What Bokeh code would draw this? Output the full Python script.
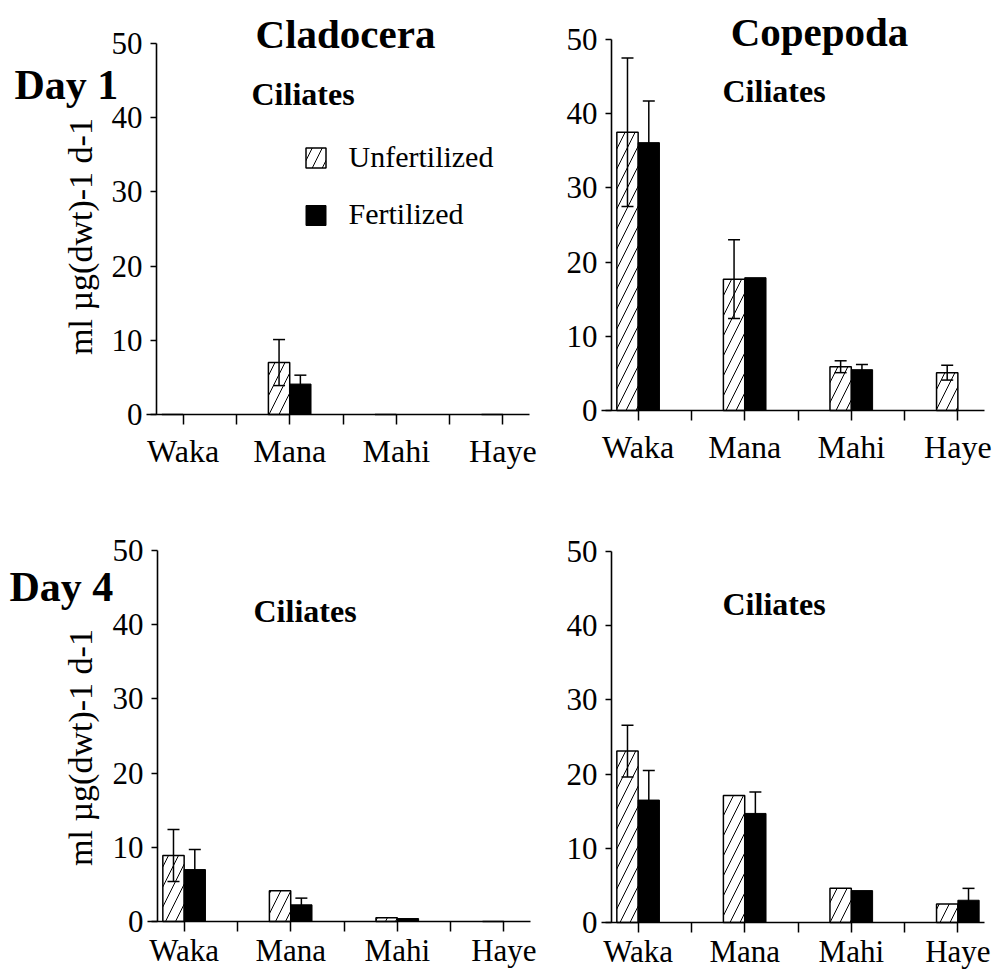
import math
import numpy as np
from bokeh.plotting import figure
from bokeh.models import (Range1d, FixedTicker, Label, Whisker, TeeHead,
                          ColumnDataSource)
from bokeh.layouts import row, column
from bokeh.embed import file_html
from bokeh.resources import INLINE

# ---------------- data ----------------
sites = ["Waka", "Mana", "Mahi", "Haye"]
y_ticks = [0, 10, 20, 30, 40, 50]

# Day 1, Cladocera
d1_clad_unf = [0.0, 7.0, 0.0, 0.0]
d1_clad_unf_err = [0.0, 3.1, 0.0, 0.0]
d1_clad_fer = [0.0, 4.1, 0.0, 0.0]
d1_clad_fer_err = [0.0, 1.2, 0.0, 0.0]

# Day 1, Copepoda
d1_cope_unf = [37.5, 17.7, 5.9, 5.1]
d1_cope_unf_err = [10.0, 5.3, 0.8, 1.0]
d1_cope_fer = [36.1, 17.9, 5.5, 0.0]
d1_cope_fer_err = [5.6, 0.0, 0.7, 0.0]

# Day 4, Cladocera
d4_clad_unf = [8.9, 4.15, 0.5, 0.0]
d4_clad_unf_err = [3.5, 0.0, 0.0, 0.0]
d4_clad_fer = [7.0, 2.25, 0.4, 0.0]
d4_clad_fer_err = [2.7, 0.9, 0.0, 0.0]

# Day 4, Copepoda
d4_cope_unf = [23.1, 17.1, 4.6, 2.5]
d4_cope_unf_err = [3.5, 0.0, 0.0, 0.0]
d4_cope_fer = [16.5, 14.7, 4.3, 3.0]
d4_cope_fer_err = [4.0, 2.9, 0.0, 1.6]

# ---------------- style / layout ----------------
SERIF = "Liberation Serif"
X0, X1 = -0.25, 3.25      # plotted x extent (group index units)
Y0, Y1 = 0, 50
FW, FH = 373, 371         # plot area size in px
BAR_W = 0.2


def make_panel(unf, unf_err, fer, fer_err, fig_w, fig_h, left, top,
               xlab_size="32px", xlab_standoff=8):
    ppx = FW / (X1 - X0)
    ppy = FH / (Y1 - Y0)
    xr = Range1d(X0 - left / ppx, X0 + (fig_w - left) / ppx)
    yr = Range1d(Y0 - (fig_h - top - FH) / ppy, Y1 + top / ppy)
    p = figure(width=fig_w, height=fig_h, x_range=xr, y_range=yr,
               output_backend="svg", toolbar_location=None, min_border=0,
               min_border_left=0, min_border_right=0, min_border_top=0,
               min_border_bottom=0)
    p.outline_line_color = None
    p.xgrid.grid_line_color = None
    p.ygrid.grid_line_color = None
    p.background_fill_color = "white"
    p.border_fill_color = "white"

    xs = np.arange(len(sites), dtype=float)
    xu = xs - BAR_W / 2
    xf = xs + BAR_W / 2
    unf = np.array(unf)
    fer = np.array(fer)
    ue = np.array(unf_err)
    fe = np.array(fer_err)

    p.vbar(x=xu, top=unf, bottom=0, width=BAR_W, fill_color="white",
           line_color="black", line_width=1.5, hatch_pattern="/",
           hatch_color="black", hatch_weight=1.0, hatch_scale=20)
    p.vbar(x=xf, top=fer, bottom=0, width=BAR_W, fill_color="black",
           line_color="black", line_width=1.0)

    bx, up, lo = [], [], []
    for x, v, e in list(zip(xu, unf, ue)) + list(zip(xf, fer, fe)):
        if e > 0:
            bx.append(x)
            up.append(v + e)
            lo.append(v - e)
    src = ColumnDataSource(dict(base=bx, upper=up, lower=lo))
    w = Whisker(source=src, base="base", upper="upper", lower="lower",
                dimension="height", line_color="black", line_width=1.5,
                upper_head=TeeHead(size=12, line_width=1.5, line_color="black"),
                lower_head=TeeHead(size=12, line_width=1.5, line_color="black"),
                level="annotation")
    p.add_layout(w)

    xa = p.xaxis[0]
    xt = [0, 0.5, 1, 1.5, 2, 2.5, 3]
    xa.ticker = FixedTicker(ticks=xt)
    ov = {}
    for t in xt:
        if float(t).is_integer():
            ov[t] = sites[int(t)]
        else:
            ov[t] = ""
    xa.major_label_overrides = ov
    xa.fixed_location = Y0
    xa.bounds = (X0 - 10 / ppx, X1)
    xa.major_label_text_font = SERIF
    xa.major_label_text_font_size = xlab_size
    xa.major_label_text_color = "black"
    xa.major_tick_out = 10
    xa.major_tick_in = 0
    xa.minor_tick_line_color = None
    xa.axis_line_width = 1.6
    xa.major_tick_line_width = 1.5
    xa.major_label_standoff = xlab_standoff

    ya = p.yaxis[0]
    ya.ticker = FixedTicker(ticks=y_ticks)
    ya.fixed_location = X0
    ya.bounds = (Y0, Y1)
    ya.major_label_text_font = SERIF
    ya.major_label_text_font_size = "31px"
    ya.major_label_text_color = "black"
    ya.major_tick_out = 6
    ya.major_tick_in = 0
    ya.minor_tick_line_color = None
    ya.axis_line_width = 1.6
    ya.major_tick_line_width = 1.5
    ya.major_label_standoff = 8
    return p


def add_text(p, fig_x0, fig_y0, px, py, text, size, bold=False,
             align="left", angle=0.0):
    # page pixel position (vertical centre of the text) -> canvas position
    p.add_layout(Label(x=px - fig_x0, y=py - fig_y0, x_units="canvas",
                       y_units="canvas", text=text, text_font=SERIF,
                       text_font_size=size,
                       text_font_style="bold" if bold else "normal",
                       text_align=align, text_baseline="middle",
                       angle=angle, text_color="black", level="overlay"))


COL_SPLIT = 555
ROW_SPLIT = 480
W1, W2 = COL_SPLIT, 993 - COL_SPLIT
H1, H2 = ROW_SPLIT, 969 - ROW_SPLIT

# plot area placement inside each figure (left, top)
g_tl = (156, 43)
g_tr = (611 - COL_SPLIT, 39)
g_bl = (157, 550 - ROW_SPLIT)
g_br = (611 - COL_SPLIT, 551 - ROW_SPLIT)

p1 = make_panel(d1_clad_unf, d1_clad_unf_err, d1_clad_fer, d1_clad_fer_err,
                W1, H1, *g_tl)
p2 = make_panel(d1_cope_unf, d1_cope_unf_err, d1_cope_fer, d1_cope_fer_err,
                W2, H1, *g_tr)
p3 = make_panel(d4_clad_unf, d4_clad_unf_err, d4_clad_fer, d4_clad_fer_err,
                W1, H2, *g_bl, xlab_size="31px", xlab_standoff=1)
p4 = make_panel(d4_cope_unf, d4_cope_unf_err, d4_cope_fer, d4_cope_fer_err,
                W2, H2, *g_br, xlab_size="31px", xlab_standoff=1)

ylab = "ml \u00b5g(dwt)-1 d-1"

# top-left texts
add_text(p1, 0, 0, 345, 33, "Cladocera", "41px", bold=True, align="center")
add_text(p1, 0, 0, 251, 93, "Ciliates", "32px", bold=True)
add_text(p1, 0, 0, 14, 84, "Day 1", "42px", bold=True)
add_text(p1, 0, 0, 80, 236, ylab, "34px", align="center", angle=math.pi / 2)

# legend (top-left panel)
fl, ft = g_tl
leg_x = X0 + (315.5 - fl) * (X1 - X0) / FW
leg_y1 = Y1 - (157.5 - ft) * (Y1 - Y0) / FH
leg_y2 = Y1 - (215.0 - ft) * (Y1 - Y0) / FH
p1.scatter(x=[leg_x], y=[leg_y1], marker="square", size=20, fill_color="white",
           line_color="black", line_width=1.5, hatch_pattern="/",
           hatch_color="black", hatch_weight=1.0, hatch_scale=20)
p1.scatter(x=[leg_x], y=[leg_y2], marker="square", size=20, fill_color="black",
           line_color="black", line_width=1.0)
add_text(p1, 0, 0, 348, 156, "Unfertilized", "30px")
add_text(p1, 0, 0, 348, 213, "Fertilized", "30px")

# top-right texts
add_text(p2, COL_SPLIT, 0, 819, 31, "Copepoda", "41px", bold=True, align="center")
add_text(p2, COL_SPLIT, 0, 722, 90, "Ciliates", "32px", bold=True)

# bottom-left texts
add_text(p3, 0, ROW_SPLIT, 9, 586, "Day 4", "42px", bold=True)
add_text(p3, 0, ROW_SPLIT, 253, 610, "Ciliates", "32px", bold=True)
add_text(p3, 0, ROW_SPLIT, 80, 747, ylab, "34px", align="center",
         angle=math.pi / 2)

# bottom-right texts
add_text(p4, COL_SPLIT, ROW_SPLIT, 722, 603, "Ciliates", "32px", bold=True)

layout = column(row(p1, p2), row(p3, p4))

with open("out.html", "w") as f:
    f.write(file_html(layout, INLINE))
